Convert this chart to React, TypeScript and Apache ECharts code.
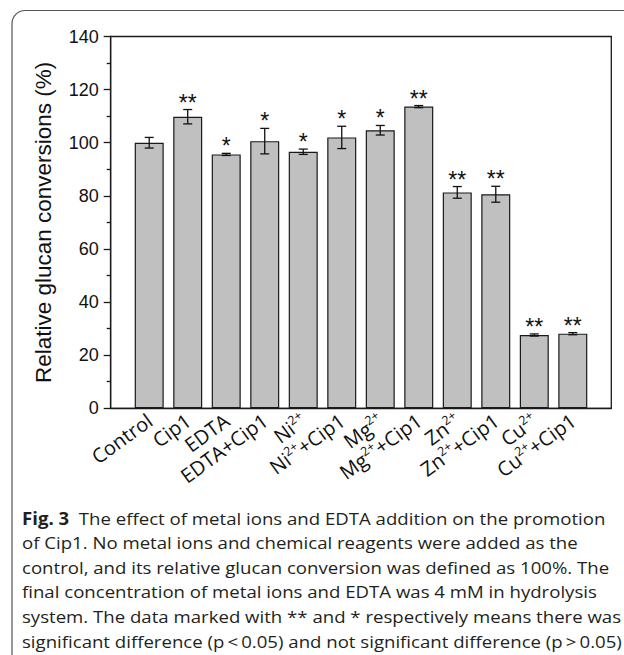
import React, { useEffect, useRef } from 'react';
import * as echarts from 'echarts';

// Categories; text inside [ ] is a superscript
const categories = [
  'Control', 'Cip1', 'EDTA', 'EDTA+Cip1',
  'Ni[2+]', 'Ni[2+]+Cip1', 'Mg[2+]', 'Mg[2+]+Cip1',
  'Zn[2+]', 'Zn[2+]+Cip1', 'Cu[2+]', 'Cu[2+]+Cip1',
];
const values = [100, 109.8, 95.6, 100.6, 96.6, 102.0, 104.7, 113.6, 81.3, 80.6, 27.6, 28.1];
const errors = [2.0, 2.7, 0.4, 4.8, 1.0, 4.2, 1.8, 0.4, 2.2, 3.0, 0.4, 0.4];
const marks = ['', '**', '*', '*', '*', '*', '*', '**', '**', '**', '**', '**'];
const yMin = 0;
const yMax = 140;
const yInterval = 20;
const yTitle = 'Relative glucan conversions (%)';

const captionLines = [
  'The effect of metal ions and EDTA addition on the promotion',
  'of Cip1. No metal ions and chemical reagents were added as the',
  'control, and its relative glucan conversion was defined as 100%. The',
  'final concentration of metal ions and EDTA was 4 mM in hydrolysis',
  'system. The data marked with ** and * respectively means there was',
  'significant difference (p\u2009<\u20090.05) and not significant difference (p\u2009>\u20090.05)',
];
const captionTag = 'Fig. 3';

const plotFont = '"Liberation Sans", Arial, Helvetica, sans-serif';
const captionFont = '"Open Sans", "Noto Sans", sans-serif';

function toRich(label: string): string {
  const parts: string[] = [];
  const re = /([^\[]+)|\[([^\]]+)\]/g;
  let m: RegExpExecArray | null;
  while ((m = re.exec(label)) !== null) {
    if (m[1]) parts.push(`{t|${m[1]}}`);
    else if (m[2]) parts.push(`{s|${m[2]}}`);
  }
  return parts.join('');
}

export default function App() {
  const ref = useRef<HTMLDivElement>(null);

  useEffect(() => {
    if (!ref.current) return;
    const chart = echarts.init(ref.current, undefined, { renderer: 'svg' });

    const barData = values.map((v, i) => [i + 1, v]);
    const errData = values.map((v, i) => [i + 1, v, errors[i], i]);

    const lineH = 24.6;
    const capTop = 518;
    const capSize = 17;
    const capScaleX = 1.095;
    const caption: any[] = captionLines.map((line, i) => ({
      type: 'text',
      x: 22,
      y: capTop + i * lineH,
      scaleX: capScaleX,
      style: i === 0
        ? {
            text: `{b|${captionTag}}  ${line}`,
            fontFamily: captionFont,
            fontSize: capSize,
            fill: '#231f20',
            verticalAlign: 'middle',
            align: 'left',
            rich: {
              b: { fontFamily: captionFont, fontSize: capSize, fontWeight: 'bold', fill: '#231f20' },
            },
          }
        : {
            text: line,
            fontFamily: captionFont,
            fontSize: capSize,
            fill: '#231f20',
            verticalAlign: 'middle',
            align: 'left',
          },
    }));

    chart.setOption({
      animation: false,
      backgroundColor: '#ffffff',
      grid: {
        left: 110.7,
        right: 12.7,
        top: 36.5,
        bottom: 246.7,
        show: true,
        borderColor: '#1a1a1a',
        borderWidth: 1.3,
        backgroundColor: 'transparent',
      },
      xAxis: {
        type: 'value',
        min: 0,
        max: 13,
        interval: 1,
        splitLine: { show: false },
        axisTick: { show: false },
        axisLine: { show: true, onZero: false, lineStyle: { color: '#1a1a1a', width: 1.3 } },
        axisLabel: {
          rotate: 36,
          margin: 9,
          showMinLabel: false,
          showMaxLabel: false,
          formatter: (v: number) => {
            const idx = Math.round(v) - 1;
            if (idx < 0 || idx >= categories.length) return '';
            return toRich(categories[idx]);
          },
          rich: {
            t: { fontFamily: captionFont, fontSize: 20, color: '#111', lineHeight: 22, verticalAlign: 'bottom' },
            s: { fontFamily: captionFont, fontSize: 12.5, color: '#111', lineHeight: 22, verticalAlign: 'top' },
          },
        },
      },
      yAxis: {
        type: 'value',
        min: yMin,
        max: yMax,
        interval: yInterval,
        name: yTitle,
        nameLocation: 'middle',
        nameGap: 56,
        nameTextStyle: { fontFamily: plotFont, fontSize: 22.5, color: '#111' },
        splitLine: { show: false },
        axisLine: { show: true, lineStyle: { color: '#1a1a1a', width: 1.3 } },
        axisTick: { show: true, length: 7, lineStyle: { color: '#1a1a1a', width: 1.3 } },
        minorTick: { show: true, splitNumber: 2, length: 4, lineStyle: { color: '#1a1a1a', width: 1.3 } },
        axisLabel: { fontFamily: plotFont, fontSize: 18, color: '#111', margin: 12 },
      },
      series: [
        {
          type: 'bar',
          data: barData,
          barWidth: 29,
          itemStyle: { color: '#c0c0c0', borderColor: '#1a1a1a', borderWidth: 1.2 },
          z: 2,
        },
        {
          type: 'custom',
          data: errData,
          z: 3,
          renderItem: (params: any, api: any) => {
            const x = api.value(0);
            const v = api.value(1);
            const e = api.value(2);
            const idx = api.value(3);
            const top = api.coord([x, v + e]);
            const bot = api.coord([x, v - e]);
            const hw = 4.5;
            const ls = { stroke: '#111', lineWidth: 1.3 };
            const children: any[] = [
              { type: 'line', shape: { x1: top[0], y1: top[1], x2: bot[0], y2: bot[1] }, style: ls },
              { type: 'line', shape: { x1: top[0] - hw, y1: top[1], x2: top[0] + hw, y2: top[1] }, style: ls },
              { type: 'line', shape: { x1: bot[0] - hw, y1: bot[1], x2: bot[0] + hw, y2: bot[1] }, style: ls },
            ];
            const mk = marks[idx];
            if (mk) {
              children.push({
                type: 'text',
                x: top[0],
                y: top[1] - 7,
                style: {
                  text: mk,
                  fontFamily: plotFont,
                  fontSize: 23,
                  fill: '#111',
                  align: 'center',
                  verticalAlign: 'middle',
                },
              });
            }
            return { type: 'group', children };
          },
        },
      ],
      graphic: [
        {
          type: 'rect',
          shape: { x: 12, y: 10.5, width: 700, height: 700, r: 13 },
          style: { fill: 'none', stroke: '#555', lineWidth: 1.2 },
          z: -10,
        },
        ...caption,
      ],
    });

    return () => chart.dispose();
  }, []);

  return (
    <div
      ref={ref}
      style={{ position: 'absolute', left: 0, top: 0, width: 624, height: 655, background: '#fff' }}
    />
  );
}
